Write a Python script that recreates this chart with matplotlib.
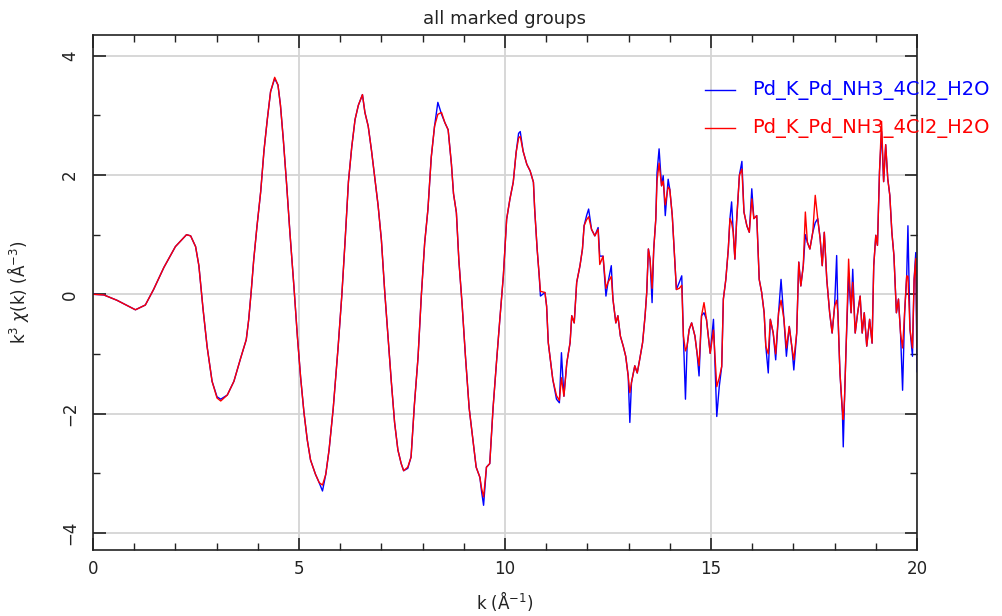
import matplotlib
matplotlib.use("Agg")
import matplotlib.pyplot as plt
from matplotlib.ticker import MultipleLocator

# k^3-weighted chi(k) for the two marked Pd K-edge groups
k_blue = [0.00, 0.26, 0.58, 1.03, 1.27, 1.47, 1.72, 2.00, 2.27, 2.37, 2.49, 2.57,
          2.67, 2.77, 2.89, 3.01, 3.10, 3.26, 3.42, 3.58, 3.72, 3.78, 3.84, 3.90,
          3.98, 4.07, 4.15, 4.23, 4.31, 4.41, 4.49, 4.55, 4.62, 4.70, 4.78, 4.88,
          4.96, 5.04, 5.12, 5.20, 5.28, 5.40, 5.49, 5.57, 5.65, 5.73, 5.83, 5.95,
          6.04, 6.12, 6.20, 6.28, 6.36, 6.44, 6.54, 6.60, 6.68, 6.76, 6.84, 6.92,
          7.00, 7.08, 7.16, 7.24, 7.32, 7.40, 7.48, 7.54, 7.64, 7.72, 7.80, 7.89,
          7.97, 8.05, 8.13, 8.21, 8.29, 8.37, 8.46, 8.54, 8.62, 8.70, 8.75, 8.82,
          8.88, 8.96, 9.04, 9.13, 9.21, 9.30, 9.39, 9.43, 9.48, 9.55, 9.63, 9.71,
          9.79, 9.87, 9.96, 10.04, 10.12, 10.20, 10.27, 10.33, 10.37, 10.44, 10.53,
          10.61, 10.69, 10.72, 10.78, 10.83, 10.86, 10.97, 11.01, 11.05, 11.09,
          11.16, 11.25, 11.32, 11.37, 11.43, 11.50, 11.58, 11.62, 11.68, 11.74,
          11.82, 11.88, 11.92, 11.98, 12.03, 12.10, 12.18, 12.26, 12.30, 12.38,
          12.45, 12.50, 12.58, 12.62, 12.69, 12.74, 12.80, 12.87, 12.93, 12.99,
          13.03, 13.07, 13.15, 13.21, 13.27, 13.34, 13.40, 13.44, 13.48, 13.52,
          13.57, 13.61, 13.66, 13.69, 13.74, 13.80, 13.84, 13.89, 13.96, 14.00,
          14.06, 14.12, 14.16, 14.23, 14.29, 14.33, 14.38, 14.42, 14.47, 14.53,
          14.61, 14.66, 14.71, 14.77, 14.83, 14.89, 14.98, 15.06, 15.14, 15.20,
          15.26, 15.30, 15.36, 15.42, 15.46, 15.50, 15.54, 15.58, 15.62, 15.69,
          15.75, 15.80, 15.87, 15.93, 15.99, 16.04, 16.11, 16.17, 16.23, 16.29,
          16.33, 16.39, 16.44, 16.51, 16.57, 16.64, 16.70, 16.77, 16.83, 16.90,
          16.96, 17.01, 17.08, 17.13, 17.18, 17.24, 17.29, 17.34, 17.40, 17.47,
          17.53, 17.59, 17.65, 17.70, 17.75, 17.81, 17.88, 17.94, 18.00, 18.05,
          18.08, 18.13, 18.19, 18.21, 18.24, 18.28, 18.34, 18.40, 18.44, 18.50,
          18.56, 18.62, 18.67, 18.72, 18.78, 18.85, 18.91, 18.95, 19.00, 19.04,
          19.09, 19.14, 19.19, 19.24, 19.29, 19.34, 19.39, 19.44, 19.50, 19.55,
          19.60, 19.65, 19.70, 19.75, 19.78, 19.83, 19.89, 19.93, 19.97, 20.00]
chi_blue = [0.00, -0.01, -0.10, -0.26, -0.18, 0.08, 0.45, 0.80, 1.00, 0.98, 0.80, 0.48,
            -0.24, -0.88, -1.46, -1.72, -1.76, -1.69, -1.46, -1.08, -0.76, -0.42, 0.05, 0.57,
            1.14, 1.72, 2.41, 2.93, 3.40, 3.62, 3.51, 3.17, 2.59, 1.84, 1.03, 0.10,
            -0.70, -1.40, -1.98, -2.44, -2.78, -3.02, -3.16, -3.30, -3.02, -2.61, -1.92, -0.88,
            -0.01, 0.91, 1.89, 2.47, 2.93, 3.17, 3.35, 3.05, 2.82, 2.41, 1.95, 1.49,
            0.91, 0.05, -0.70, -1.46, -2.15, -2.61, -2.84, -2.96, -2.92, -2.73, -1.86, -1.05,
            -0.01, 0.86, 1.43, 2.30, 2.82, 3.22, 3.02, 2.88, 2.76, 2.18, 1.69, 1.37,
            0.57, -0.18, -1.04, -1.91, -2.38, -2.90, -3.07, -3.30, -3.54, -2.90, -2.84, -1.91,
            -1.17, -0.46, 0.31, 1.26, 1.60, 1.88, 2.38, 2.70, 2.73, 2.40, 2.18,
            2.07, 1.88, 1.43, 0.76, 0.31, -0.03, 0.03, -0.20, -0.81, -1.04,
            -1.43, -1.76, -1.82, -0.98, -1.71, -1.15, -0.81, -0.36, -0.48, 0.20,
            0.48, 0.76, 1.15, 1.32, 1.43, 1.09, 0.98, 1.12, 0.64, 0.64,
            -0.03, 0.20, 0.48, -0.08, -0.48, -0.36, -0.70, -0.87, -1.04, -1.37,
            -2.15, -1.48, -1.20, -1.32, -1.09, -0.81, -0.36, 0.03, 0.76, 0.59,
            -0.14, 0.76, 1.26, 2.04, 2.44, 1.82, 1.99, 1.32, 1.93, 1.76,
            1.32, 0.59, 0.08, 0.20, 0.31, -0.70, -1.76, -0.87, -0.59, -0.48,
            -0.70, -0.98, -1.37, -0.36, -0.31, -0.42, -0.99, -0.42, -2.05, -1.55,
            -1.21, -0.08, 0.25, 0.76, 1.27, 1.55, 1.04, 0.59, 1.21, 2.00,
            2.23, 1.38, 1.15, 1.04, 1.77, 1.27, 1.32, 0.25, 0.03, -0.31,
            -0.87, -1.32, -0.42, -0.65, -1.10, -0.31, 0.25, -0.42, -1.04, -0.54,
            -0.87, -1.27, -0.65, 0.54, 0.14, 0.48, 1.00, 0.87, 0.76, 1.04,
            1.20, 1.27, 0.93, 0.48, 1.04, 0.25, -0.31, -0.65, -0.20, 0.65,
            -0.31, -1.32, -2.00, -2.56, -1.77, -0.87, 0.30, -0.31, 0.42, -0.65,
            -0.31, -0.03, -0.65, -0.31, -0.87, -0.42, -0.82, 0.48, 0.99, 0.82,
            2.06, 2.73, 1.89, 2.51, 1.94, 1.66, 1.04, 0.65, -0.31, -0.08,
            -0.65, -1.61, -0.31, 0.31, 1.15, -0.59, -1.04, 0.25, 0.70, -1.30]

k_red = k_blue
chi_red = [0.00, -0.01, -0.10, -0.26, -0.18, 0.08, 0.45, 0.80, 1.00, 0.98, 0.80, 0.48,
           -0.24, -0.88, -1.46, -1.74, -1.79, -1.69, -1.46, -1.08, -0.76, -0.42, 0.05, 0.57,
           1.14, 1.72, 2.41, 2.93, 3.40, 3.64, 3.51, 3.17, 2.59, 1.84, 1.03, 0.10,
           -0.70, -1.40, -1.98, -2.44, -2.78, -3.02, -3.16, -3.20, -3.02, -2.61, -1.92, -0.88,
           -0.01, 0.91, 1.89, 2.47, 2.93, 3.17, 3.35, 3.05, 2.82, 2.41, 1.95, 1.49,
           0.91, 0.05, -0.70, -1.46, -2.15, -2.61, -2.84, -2.96, -2.90, -2.73, -1.86, -1.05,
           -0.01, 0.86, 1.43, 2.30, 2.82, 3.02, 3.05, 2.88, 2.76, 2.18, 1.69, 1.37,
           0.57, -0.18, -1.04, -1.91, -2.38, -2.90, -3.07, -3.25, -3.40, -2.90, -2.84, -1.91,
           -1.17, -0.46, 0.31, 1.26, 1.60, 1.88, 2.38, 2.62, 2.65, 2.40, 2.18,
           2.07, 1.88, 1.43, 0.76, 0.31, 0.05, 0.03, -0.20, -0.81, -1.04,
           -1.43, -1.70, -1.78, -1.40, -1.71, -1.15, -0.81, -0.36, -0.48, 0.20,
           0.48, 0.76, 1.15, 1.25, 1.30, 1.09, 0.98, 1.09, 0.50, 0.64,
           0.10, 0.20, 0.30, -0.08, -0.48, -0.36, -0.70, -0.87, -1.04, -1.37,
           -1.65, -1.48, -1.20, -1.32, -1.09, -0.81, -0.36, 0.03, 0.76, 0.59,
           0.10, 0.76, 1.26, 1.90, 2.20, 1.82, 1.90, 1.50, 1.80, 1.76,
           1.32, 0.59, 0.08, 0.10, 0.15, -0.70, -0.95, -0.87, -0.59, -0.48,
           -0.70, -0.98, -1.20, -0.36, -0.14, -0.42, -0.99, -0.60, -1.55, -1.40,
           -1.21, -0.08, 0.25, 0.76, 1.27, 1.20, 1.04, 0.59, 1.21, 2.00,
           2.10, 1.38, 1.15, 1.04, 1.60, 1.27, 1.32, 0.25, 0.03, -0.31,
           -0.87, -1.00, -0.42, -0.65, -1.00, -0.31, -0.10, -0.42, -0.90, -0.54,
           -0.87, -1.10, -0.65, 0.54, 0.14, 0.48, 1.38, 0.87, 0.76, 1.04,
           1.66, 1.27, 0.93, 0.48, 1.04, 0.25, -0.31, -0.65, -0.20, -0.10,
           -0.31, -1.32, -1.95, -2.10, -1.77, -0.87, 0.59, -0.31, 0.20, -0.65,
           -0.31, -0.03, -0.65, -0.31, -0.87, -0.42, -0.82, 0.48, 0.99, 0.82,
           2.06, 2.90, 1.89, 2.51, 1.94, 1.66, 1.04, 0.65, -0.31, -0.08,
           -0.65, -0.90, -0.31, 0.31, 0.30, -0.59, -0.90, 0.25, 0.60, -0.90]

group_names = ["Pd_K_Pd_NH3_4Cl2_H2O", "Pd_K_Pd_NH3_4Cl2_H2O"]
line_colors = ["#0000ff", "#ff0000"]

INK = "#222222"
GRID = "#d4d4d4"

plt.rcParams["font.family"] = ["DejaVu Sans"]

fig = plt.figure(figsize=(10.03, 6.16), dpi=100)
ax = fig.add_axes([93 / 1003, 66 / 616, 824 / 1003, 515 / 616])

ax.plot(k_blue, chi_blue, color=line_colors[0], lw=1.0)
ax.plot(k_red, chi_red, color=line_colors[1], lw=1.0)

ax.set_xlim(0, 20)
ax.set_ylim(-4.29, 4.35)

ax.xaxis.set_major_locator(MultipleLocator(5))
ax.xaxis.set_minor_locator(MultipleLocator(1))
ax.yaxis.set_major_locator(MultipleLocator(2))
ax.yaxis.set_minor_locator(MultipleLocator(1))
ax.grid(True, which="major", color=GRID, lw=1.3)
ax.set_axisbelow(True)

ax.tick_params(which="both", direction="in", top=True, right=True, color=INK,
               labelcolor=INK, labelsize=12)
ax.tick_params(which="major", length=9, width=1.2)
ax.tick_params(which="minor", length=5, width=1.0)
ax.tick_params(axis="x", pad=7)
ax.tick_params(axis="y", pad=10)
for lab in ax.get_yticklabels():
    lab.set_rotation(90)
    lab.set_va("center")
for sp in ax.spines.values():
    sp.set_color(INK)
    sp.set_linewidth(1.2)

ax.set_title("all marked groups", fontsize=13, color=INK, pad=8)
ax.set_xlabel(r"k ($\mathrm{\AA}^{-1}$)", fontsize=12, color=INK, labelpad=8)
ax.set_ylabel(r"k$^3$ $\chi$(k) ($\mathrm{\AA}^{-3}$)", fontsize=12, color=INK, labelpad=22)

# legend drawn by hand, hanging over the right frame edge
for i, (name, col) in enumerate(zip(group_names, line_colors)):
    y = 90 + 38 * i
    fig.add_artist(plt.Line2D([705 / 1003, 735 / 1003], [1 - y / 616, 1 - y / 616],
                              color=col, lw=1.0))
    fig.text(752 / 1003, 1 - y / 616, name, color=col, fontsize=14,
             va="center", ha="left")

fig.savefig("out.png", dpi=100)
